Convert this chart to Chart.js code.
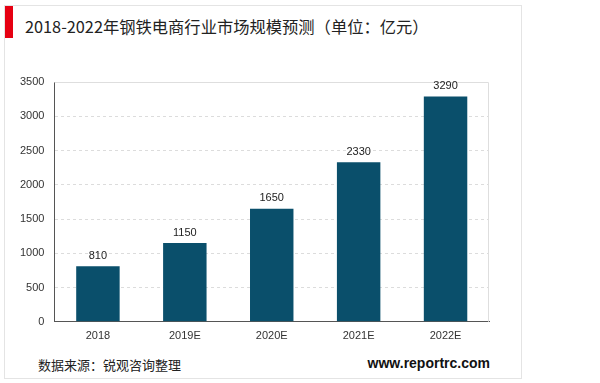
<!DOCTYPE html>
<html>
<head>
  <meta charset="UTF-8">
  <title>钢铁电商行业市场规模预测</title>
  <script src="https://cdn.jsdelivr.net/npm/chart.js"></script>
  <style>
    body { margin: 0; background: #fff; font-family: "Noto Sans CJK SC", "Noto Sans", sans-serif; }
    .card {
      position: absolute; left: 4px; top: 5px; width: 516px; height: 372px;
      border: 1px solid #e4e4e4; background: #fff;
    }
    .mark { position: absolute; left: 0; top: 0; width: 8px; height: 32px; background: #e60012; }
    .title { position: absolute; left: 20px; top: 8px; font-size: 16.3px; color: #222; }
    .wrap { position: absolute; left: 0px; top: 60px; width: 497px; height: 291px; }
    .src { position: absolute; left: 33px; top: 349px; font-size: 13px; color: #222; }
    .site { position: absolute; right: 31px; top: 349px; font-size: 14px; font-weight: bold; color: #111;
      font-family: "Liberation Sans", Arial, sans-serif; }
  </style>
</head>
<body>
  <div class="card">
    <div class="mark"></div>
    <div class="title">2018-2022年钢铁电商行业市场规模预测（单位：亿元）</div>
    <div class="src">数据来源：锐观咨询整理</div>
    <div class="site">www.reportrc.com</div>
  </div>
  <div class="wrap"><canvas id="c"></canvas></div>
  <script>
    const years = ["2018", "2019E", "2020E", "2021E", "2022E"];
    const marketSize = [810, 1150, 1650, 2330, 3290];

    // light frame on top and right of the plot
    const plotFrame = {
      id: "plotFrame",
      beforeDatasetsDraw(chart) {
        const { ctx, chartArea: a } = chart;
        ctx.save();
        ctx.strokeStyle = "#dedede";
        ctx.lineWidth = 1;
        ctx.beginPath();
        ctx.moveTo(a.left, a.top + 0.5);
        ctx.lineTo(a.right - 0.5, a.top + 0.5);
        ctx.lineTo(a.right - 0.5, a.bottom);
        ctx.stroke();
        ctx.restore();
      }
    };

    // draw the value above every bar
    const valueLabels = {
      id: "valueLabels",
      afterDatasetsDraw(chart) {
        const ctx = chart.ctx;
        ctx.save();
        ctx.font = "11px 'Liberation Sans', Arial, sans-serif";
        ctx.fillStyle = "#222";
        ctx.textAlign = "center";
        ctx.textBaseline = "bottom";
        chart.getDatasetMeta(0).data.forEach((bar, i) => {
          ctx.fillText(marketSize[i], bar.x, bar.y - 5);
        });
        ctx.restore();
      }
    };

    new Chart(document.getElementById("c"), {
      type: "bar",
      data: {
        labels: years,
        datasets: [{
          data: marketSize,
          backgroundColor: "#0a4f6b",
          categoryPercentage: 1,
          barPercentage: 0.5
        }]
      },
      options: {
        responsive: true,
        maintainAspectRatio: false,
        animation: false,
        layout: { padding: { left: 10, right: 8, top: 22, bottom: 0 } },
        plugins: { legend: { display: false }, tooltip: { enabled: false } },
        scales: {
          x: {
            grid: { display: false, drawTicks: false },
            border: { color: "#555", width: 1 },
            ticks: { color: "#333", font: { size: 11, family: "'Liberation Sans', Arial, sans-serif" }, padding: 8 }
          },
          y: {
            min: 0, max: 3500,
            ticks: { stepSize: 500, color: "#333", padding: 10,
              callback: v => String(v),
              font: { size: 11, family: "'Liberation Sans', Arial, sans-serif" } },
            grid: { color: ctx => ctx.tick && ctx.tick.value === 3500 ? "rgba(0,0,0,0)" : "#dcdcdc", drawTicks: false },
            border: { color: "#555", width: 1, dash: [3, 3] }
          }
        }
      },
      plugins: [plotFrame, valueLabels]
    });
  </script>
</body>
</html>
